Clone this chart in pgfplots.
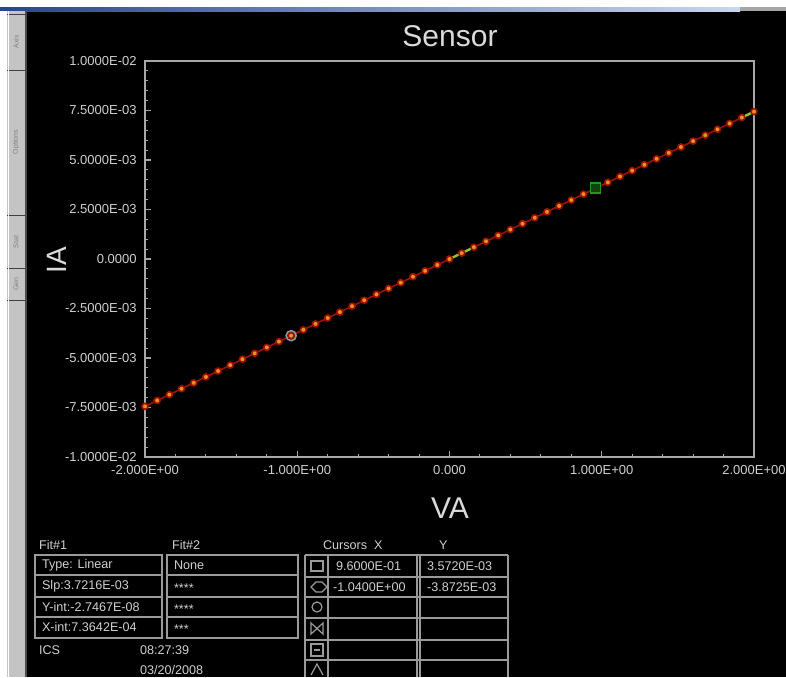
\documentclass[border=0pt]{standalone}
\usepackage{pgfplots}
\pgfplotsset{compat=1.18}
\usepackage{fontspec}
\setmainfont{Liberation Sans}
\definecolor{txt}{HTML}{D0D0D0}
\definecolor{axgray}{HTML}{A8A8A8}
\definecolor{tabgray}{HTML}{C4C4C4}
\definecolor{tbl}{HTML}{9A9A9A}
\definecolor{fitred}{HTML}{A01008}
\definecolor{dotorange}{HTML}{E8921E}
\definecolor{curgreen}{HTML}{1E9A1E}
\definecolor{curgray}{HTML}{8A96A8}
\definecolor{fitgreen}{HTML}{8CC81E}
\pgfplotstableread{
x y
-2.00 -0.0074432
-1.92 -0.0071455
-1.84 -0.0068477
-1.76 -0.0065500
-1.68 -0.0062523
-1.60 -0.0059546
-1.52 -0.0056568
-1.44 -0.0053591
-1.36 -0.0050614
-1.28 -0.0047636
-1.20 -0.0044659
-1.12 -0.0041682
-1.04 -0.0038705
-0.96 -0.0035727
-0.88 -0.0032750
-0.80 -0.0029773
-0.72 -0.0026796
-0.64 -0.0023818
-0.56 -0.0020841
-0.48 -0.0017864
-0.40 -0.0014886
-0.32 -0.0011909
-0.24 -0.0008932
-0.16 -0.0005955
-0.08 -0.0002977
0.00 0.0000000
0.08 0.0002977
0.16 0.0005955
0.24 0.0008932
0.32 0.0011909
0.40 0.0014886
0.48 0.0017864
0.56 0.0020841
0.64 0.0023818
0.72 0.0026796
0.80 0.0029773
0.88 0.0032750
0.96 0.0035727
1.04 0.0038705
1.12 0.0041682
1.20 0.0044659
1.28 0.0047636
1.36 0.0050614
1.44 0.0053591
1.52 0.0056568
1.60 0.0059546
1.68 0.0062523
1.76 0.0065500
1.84 0.0068477
1.92 0.0071455
2.00 0.0074432
}\sensordata
\begin{document}
\begin{tikzpicture}
\useasboundingbox (0,0) rectangle (393pt,-338.5pt);
\clip (0,0) rectangle (393pt,-338.5pt);
\begin{scope}[x=0.5pt,y=-0.5pt]
\fill[black] (0,0) rectangle (786,677);
\fill[white] (0,0) rectangle (786,7);
\shade[left color={rgb,255:red,40;green,70;blue,140}, right color={rgb,255:red,200;green,215;blue,240}] (0,7) rectangle (740,11);
\fill[gray!70] (740,7) rectangle (786,11);
\fill[white] (0,11) rectangle (7,677);
\fill[tabgray] (7,11) rectangle (25,677);
\draw[gray!60!black, line width=1pt] (26,11) -- (26,677);
\foreach \yy in {14,70,215,268,300} {\draw[gray!50!black, line width=0.5pt] (7,\yy) -- (25,\yy);}
\draw[white, line width=0.5pt] (8,11) -- (8,677);
\node[rotate=90, text=gray, font=\fontsize{3.5}{4}\selectfont] at (16,42) {Axis};
\node[rotate=90, text=gray, font=\fontsize{3.5}{4}\selectfont] at (16,142) {Options};
\node[rotate=90, text=gray, font=\fontsize{3.5}{4}\selectfont] at (16,242) {Stat};
\node[rotate=90, text=gray, font=\fontsize{3.5}{4}\selectfont] at (16,284) {Gen};
% titles
\node[text=txt!80!white, font=\fontsize{15}{18}\selectfont] at (450,36) {Sensor};
\node[text=txt!80!white, rotate=90, font=\fontsize{14}{16}\selectfont] at (57,260) {IA};
\node[text=txt!80!white, font=\fontsize{15}{18}\selectfont] at (450,508) {VA};
% bottom tables
\begin{scope}[font=\fontsize{6.3}{7}\selectfont, text=txt]
\node[anchor=west] at (32,545) {Fit\#1};
\node[anchor=west] at (165,545) {Fit\#2};
\node[anchor=west] at (316,545) {Cursors\ \ X};
\node[anchor=west] at (432,545) {Y};
\draw[tbl, line width=0.6pt] (35,555) rectangle (162,638);
\draw[tbl, line width=0.6pt] (167,555) rectangle (298,638);
\foreach \yy in {575,597,617} {\draw[tbl, line width=0.6pt] (35,\yy) -- (162,\yy); \draw[tbl, line width=0.6pt] (167,\yy) -- (298,\yy);}
\node[anchor=west] at (35,565) {Type: Linear};
\node[anchor=west] at (35,586) {Slp:3.7216E-03};
\node[anchor=west] at (35,607) {Y-int:-2.7467E-08};
\node[anchor=west] at (35,627) {X-int:7.3642E-04};
\node[anchor=west] at (167,565) {None};
\node[anchor=west] at (167,588) {****};
\node[anchor=west] at (167,609) {****};
\node[anchor=west] at (167,629) {***};
\draw[tbl, line width=0.6pt] (305,555) -- (305,677);
\draw[tbl, line width=0.6pt] (328,555) -- (328,677);
\draw[tbl, line width=0.6pt] (417,555) -- (417,677);
\draw[tbl, line width=0.6pt] (420,555) -- (420,677);
\draw[tbl, line width=0.6pt] (508,555) -- (508,677);
\foreach \yy in {555,577,597,618,640,660} {\draw[tbl, line width=0.6pt] (305,\yy) -- (508,\yy);}
\node[anchor=west] at (329,566) {9.6000E-01};
\node[anchor=west] at (420,566) {3.5720E-03};
\node[anchor=west] at (326,587) {-1.0400E+00};
\node[anchor=west] at (420,587) {-3.8725E-03};
\draw[tbl, line width=0.6pt] (311,561) rectangle (323,571);
\draw[tbl, line width=0.6pt] (311,587) -- (316,582) -- (322,582) -- (327,587) -- (322,592) -- (316,592) -- cycle;
\draw[tbl, line width=0.6pt] (317,607) ellipse (5 and 5);
\draw[tbl, line width=0.6pt] (311,623) -- (323,634) -- (323,623) -- (311,634) -- cycle;
\draw[tbl, line width=0.6pt] (311,644) rectangle (323,656);
\draw[tbl, line width=0.6pt] (314,650) -- (320,650);
\draw[tbl, line width=0.6pt] (311,675) -- (317,664) -- (323,675);
\node[anchor=west] at (32,650) {ICS};
\node[anchor=west] at (133,650) {08:27:39};
\node[anchor=west] at (133,670) {03/20/2008};
\end{scope}
\end{scope}
\begin{axis}[
  at={(72.5pt,-228.5pt)}, anchor=south west,
  width=304.5pt, height=198pt, scale only axis,
  xmin=-2, xmax=2, ymin=-0.01, ymax=0.01,
  scaled y ticks=false, scaled x ticks=false,
  xtick={-2,-1,0,1,2},
  xticklabels={-2.000E+00,-1.000E+00,0.000,1.000E+00,2.000E+00},
  ytick={-0.01,-0.0075,-0.005,-0.0025,0,0.0025,0.005,0.0075,0.01},
  yticklabels={-1.0000E-02,-7.5000E-03,-5.0000E-03,-2.5000E-03,0.0000,2.5000E-03,5.0000E-03,7.5000E-03,1.0000E-02},
  minor x tick num=4, minor y tick num=4,
  tick pos=left,
  axis line style={axgray, line width=1pt},
  major tick style={axgray, line width=0.6pt},
  minor tick style={axgray, line width=0.5pt},
  major tick length=3pt, minor tick length=1.5pt,
  tick label style={text=txt, font=\fontsize{6.5}{7}\selectfont, inner sep=0pt},
  yticklabel shift=4pt, xticklabel shift=4pt,
  clip=false,
]
\addplot[fitred, line width=0.8pt, mark=*, mark size=1.5pt, mark options={fill=dotorange, draw=none}] table[x=x, y=y] {\sensordata};
\addplot[fitgreen, line width=1.2pt] coordinates {(0.02,0.0000744) (0.15,0.000558)};
\addplot[fitgreen, line width=1.2pt] coordinates {(1.93,0.0071827) (2.0,0.0074432)};
\addplot[only marks, mark=square*, mark size=2.5pt, mark options={draw=curgreen, fill=curgreen!45!black, line width=0.8pt}] coordinates {(0.96,0.003572)};
\addplot[only marks, mark=o, mark size=2.5pt, mark options={draw=curgray, line width=0.8pt}] coordinates {(-1.04,-0.0038725)};
\end{axis}
\end{tikzpicture}
\end{document}
